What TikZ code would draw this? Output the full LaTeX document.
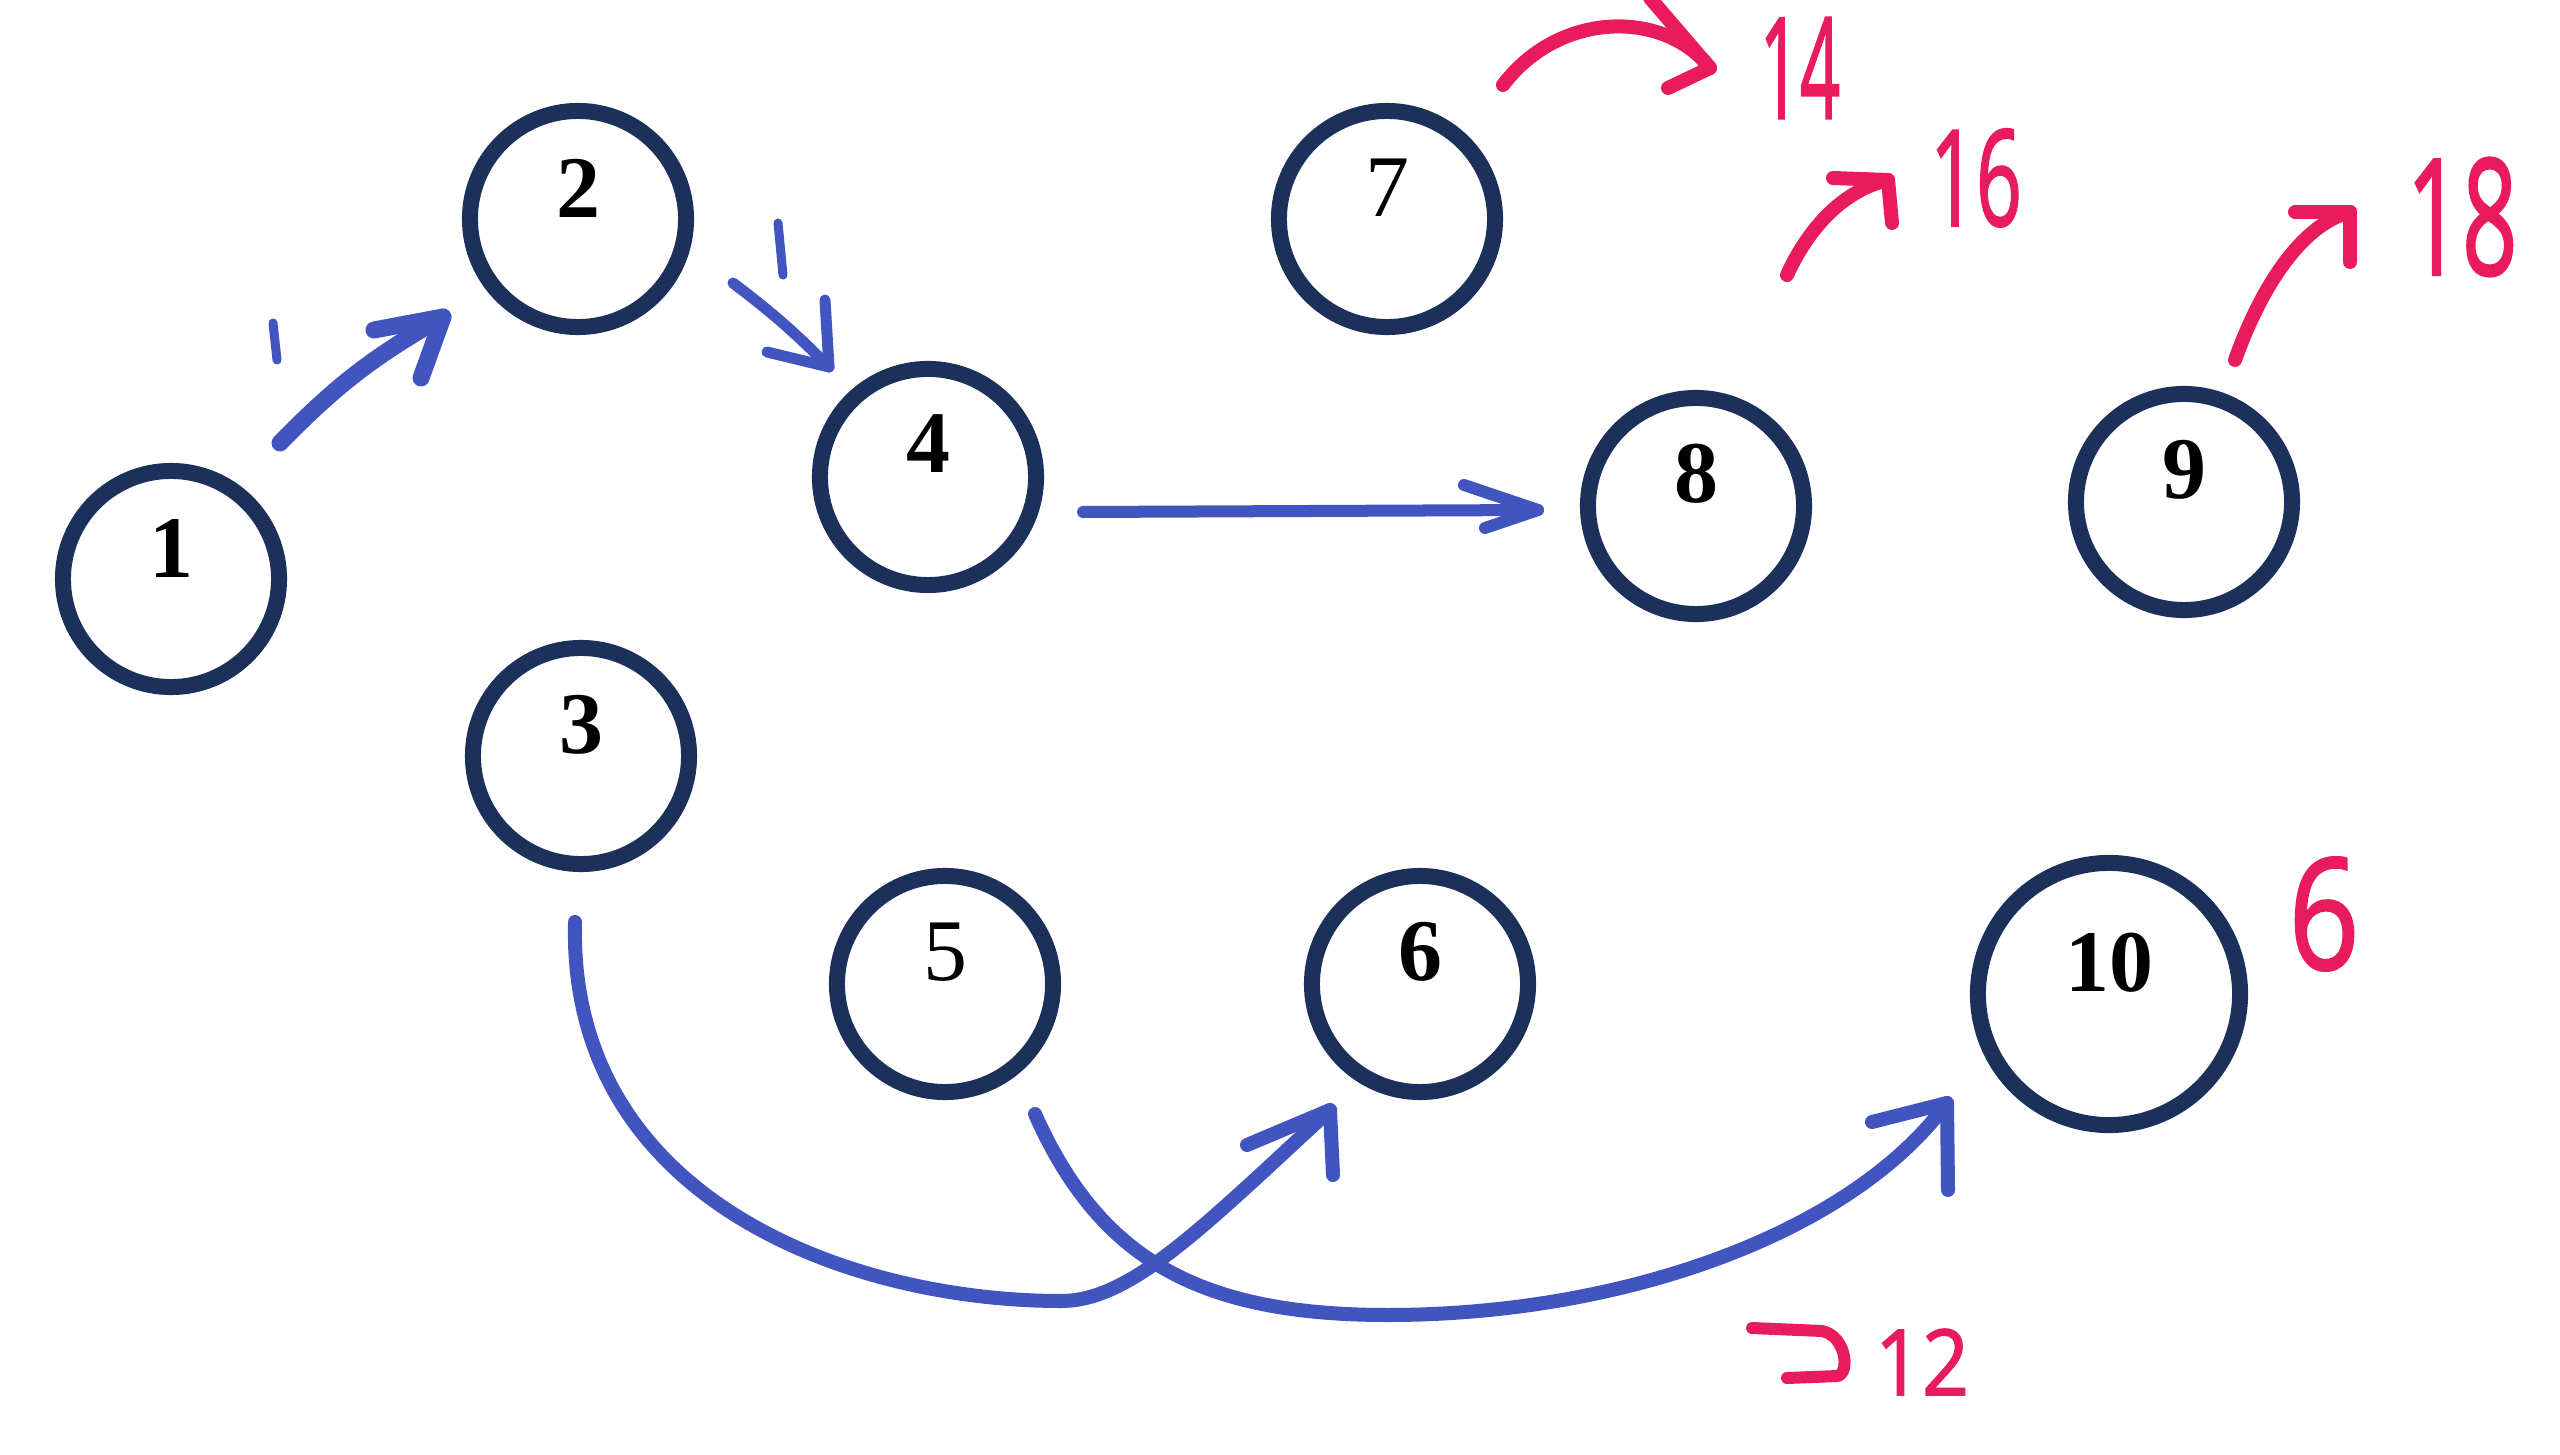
\documentclass[tikz,border=0pt]{standalone}
\usepackage{fontspec}
\setmainfont{Liberation Serif}
\newfontfamily\handfont[FakeBold=1.6]{Open Sans}
\usetikzlibrary{calc}
\definecolor{navy}{RGB}{28,48,92}
\definecolor{penblue}{RGB}{66,84,192}
\definecolor{penred}{RGB}{232,28,92}
\begin{document}
\begin{tikzpicture}[x=0.01cm,y=-0.01cm,
  vtx/.style={circle,draw=navy,line width=0.16cm,minimum size=2.16cm,inner sep=0pt},
  vnum/.style={font=\fontsize{25}{25}\selectfont\bfseries,inner sep=0pt,text=black},
  vnumlt/.style={font=\fontsize{25}{25}\selectfont,inner sep=0pt,text=black},
  bpen/.style={draw=penblue,line cap=round,line join=round},
  rpen/.style={draw=penred,line width=0.14cm,line cap=round,line join=round},
  rnum/.style={text=penred,inner sep=0pt}]
\fill[white] (0,0) rectangle (2560,1455);
\useasboundingbox (0,0) rectangle (2560,1455);

% vertices
\node[vtx] (n1) at (171,579) {};
\node[vtx] (n2) at (578,219) {};
\node[vtx] (n3) at (581,756) {};
\node[vtx] (n4) at (928,477) {};
\node[vtx] (n5) at (945,984) {};
\node[vtx] (n6) at (1420,984) {};
\node[vtx] (n7) at (1387,219) {};
\node[vtx] (n8) at (1696,506) {};
\node[vtx] (n9) at (2184,502) {};
\node[vtx,minimum size=2.62cm] (n10) at (2109,994) {};

\node[vnum] (l1) at ($(n1)+(0,-31)$) {1};
\node[vnum] (l2) at ($(n2)+(0,-31)$) {2};
\node[vnum] (l3) at ($(n3)+(0,-31)$) {3};
\node[vnum] (l4) at ($(n4)+(0,-33)$) {4};
\node[vnumlt] (l5) at ($(n5)+(0,-32)$) {5};
\node[vnum] (l6) at ($(n6)+(0,-32)$) {6};
\node[vnumlt] (l7) at ($(n7)+(0,-31)$) {7};
\node[vnum] (l8) at ($(n8)+(0,-32)$) {8};
\node[vnum] (l9) at ($(n9)+(0,-32)$) {9};
\node[vnum] (l10) at ($(n10)+(0,-31)$) {10};

% 1 -> 2
\coordinate (a12) at ($(n1)+(109,-136)$);
\coordinate (b12) at ($(n2)+(-135,98)$);
\draw[bpen,line width=0.17cm] (a12) to[bend left=8] (b12);
\draw[bpen,line width=0.17cm] ($(b12)+(-69,13)$) -- (b12) -- ($(b12)+(-22,61)$);
\draw[bpen,line width=0.09cm] (273,323) -- (277,360);

% 2 -> 4
\coordinate (a24) at ($(n2)+(155,64)$);
\coordinate (b24) at ($(n4)+(-99,-110)$);
\draw[bpen,line width=0.11cm] (a24) to[bend left=4] (b24);
\draw[bpen,line width=0.11cm] ($(b24)+(-62,-15)$) -- (b24) -- ($(b24)+(-4,-67)$);
\draw[bpen,line width=0.09cm] (778,223) -- (783,275);

% 4 -> 8
\coordinate (a48) at ($(n4)+(155,35)$);
\coordinate (b48) at ($(n8)+(-158,4)$);
\draw[bpen,line width=0.12cm] (a48) -- (b48);
\draw[bpen,line width=0.12cm] ($(b48)+(-74,-25)$) -- (b48) -- ($(b48)+(-53,18)$);

% 3 -> 6
\coordinate (a36) at ($(n3)+(-6,166)$);
\coordinate (b36) at ($(n6)+(-90,126)$);
\draw[bpen,line width=0.14cm] (a36) .. controls (568,1200) and (850,1301) .. (1061,1301)
   .. controls (1130,1301) and (1200,1230) .. (b36);
\draw[bpen,line width=0.14cm] ($(b36)+(-83,35)$) -- (b36) -- ($(b36)+(3,65)$);

% 5 -> 10
\coordinate (a510) at ($(n5)+(90,130)$);
\coordinate (b510) at ($(n10)+(-162,109)$);
\draw[bpen,line width=0.14cm] (a510) .. controls (1100,1260) and (1200,1315) .. (1388,1315)
   .. controls (1620,1315) and (1850,1235) .. (b510);
\draw[bpen,line width=0.14cm] ($(b510)+(-75,19)$) -- (b510) -- ($(b510)+(1,87)$);

% red annotations
\node[rnum] (t14) at (1800,68) {\scalebox{0.5}[1]{\handfont\fontsize{40}{40}\selectfont 14}};
\coordinate (s714) at ($(n7)+(116,-134)$);
\coordinate (e714) at (1710,68);
\draw[rpen] (s714) .. controls (1560,10) and (1665,10) .. (e714);
\draw[rpen] ($(e714)+(-60,-70)$) -- (e714) -- ($(e714)+(-42,20)$);

\node[rnum] (t16) at (1976,178) {\scalebox{0.6}[1]{\handfont\fontsize{38}{38}\selectfont 16}};
\coordinate (s16) at (1787,275);
\coordinate (e16) at (1888,180);
\draw[rpen] (s16) .. controls (1810,225) and (1845,190) .. (e16);
\draw[rpen] ($(e16)+(-55,-2)$) -- (e16) -- ($(e16)+(4,43)$);

\node[rnum] (t18) at (2462,217) {\scalebox{0.6}[1]{\handfont\fontsize{46}{46}\selectfont 18}};
\coordinate (s18) at (2235,360);
\coordinate (e18) at (2350,212);
\draw[rpen] (s18) .. controls (2260,290) and (2300,225) .. (e18);
\draw[rpen] ($(e18)+(-55,0)$) -- (e18) -- ($(e18)+(0,50)$);

\node[rnum] (t6) at (2324,914) {\scalebox{0.8}[1]{\handfont\fontsize{44}{44}\selectfont 6}};

\node[rnum] (t12) at (1922,1362) {\scalebox{0.9}[1]{\handfont\fontsize{26}{26}\selectfont 12}};
\draw[rpen,line width=0.12cm] (1752,1328) -- (1822,1331) .. controls (1846,1336) and (1850,1372) .. (1838,1376) -- (1787,1378);
\end{tikzpicture}
\end{document}
